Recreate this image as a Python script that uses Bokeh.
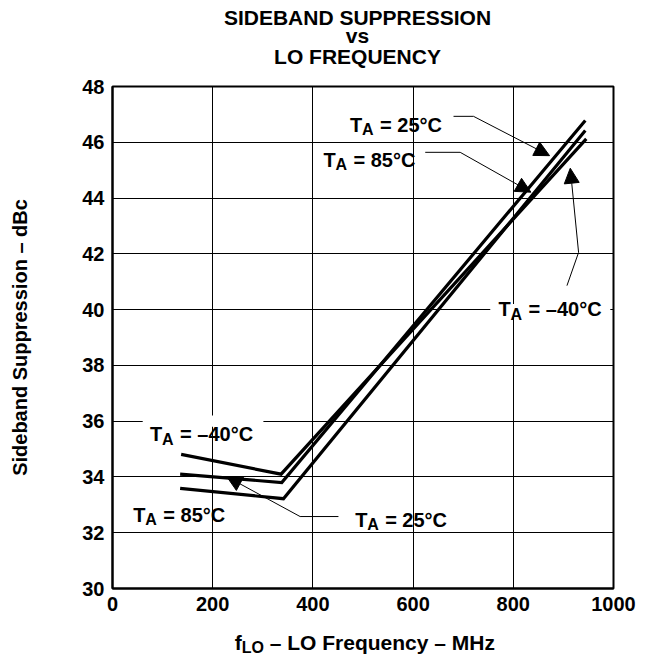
from bokeh.plotting import figure
from bokeh.layouts import column
from bokeh.models import Label, Arrow, NormalHead, BoxAnnotation, Range1d, FixedTicker
from bokeh.embed import file_html
from bokeh.resources import INLINE

# ---- data ----
freq_m40 = [137, 336.5, 945.7]
ss_m40 = [34.81, 34.10, 46.12]
freq_25 = [135, 337.9, 943.7]
ss_25 = [34.10, 33.80, 46.78]
freq_85 = [135, 341.2, 943.7]
ss_85 = [33.59, 33.22, 46.42]

x_ticks = [0, 200, 400, 600, 800, 1000]
y_ticks = [30, 32, 34, 36, 38, 40, 42, 44, 46, 48]

title_lines = ["SIDEBAND SUPPRESSION", "vs", "LO FREQUENCY"]
y_label = "Sideband Suppression \u2013 dBc"
x_label_parts = ["f", "LO", "\u2013 LO Frequency \u2013 MHz"]

FONT = "Liberation Sans"
W = 639
LEFT, FW = 112, 501
RIGHT = W - LEFT - FW
HEAD_H = 74
TOP, FH, BOTTOM = 12, 502, 32
FOOT_H = 36


def text_fig(h):
    f = figure(frame_width=FW, frame_height=h,
               x_range=Range1d(0, 1000), y_range=Range1d(h, 0),
               x_axis_type=None, y_axis_type=None,
               min_border_left=LEFT, min_border_right=RIGHT,
               min_border_top=0, min_border_bottom=0,
               output_backend="svg", toolbar_location=None)
    f.outline_line_color = None
    f.background_fill_color = "white"
    f.border_fill_color = "white"
    return f


def add_txt(fig, x, y, text, size=20, xo=0, yo=0, align="left"):
    fig.add_layout(Label(x=x, y=y, text=text, x_offset=xo, y_offset=yo,
                         text_font=FONT, text_font_style="bold",
                         text_font_size=f"{size}px", text_color="black",
                         text_align=align, text_baseline="alphabetic"))


# ---- title block ----
head = text_fig(HEAD_H)
for t, base in zip(title_lines, (17, 35.3, 56)):
    add_txt(head, 489, base, t, size=21, align="center")

# ---- main plot ----
p = figure(frame_width=FW, frame_height=FH,
           x_range=Range1d(0, 1000), y_range=Range1d(30, 48),
           output_backend="svg", toolbar_location=None,
           min_border_left=LEFT, min_border_right=RIGHT,
           min_border_top=TOP, min_border_bottom=BOTTOM)

p.background_fill_color = "white"
p.border_fill_color = "white"
p.outline_line_color = "black"
p.outline_line_width = 2

for ax in (p.xaxis[0], p.yaxis[0]):
    ax.major_tick_in = 0
    ax.major_tick_out = 0
    ax.minor_tick_line_color = None
    ax.axis_line_color = "black"
    ax.axis_line_width = 2
    ax.major_label_text_font = FONT
    ax.major_label_text_font_style = "bold"
    ax.major_label_text_font_size = "20px"
    ax.major_label_text_color = "black"

p.xaxis.ticker = FixedTicker(ticks=x_ticks)
p.yaxis.ticker = FixedTicker(ticks=y_ticks)
p.xaxis.major_label_standoff = 8
p.yaxis.major_label_standoff = 8

p.yaxis.axis_label = y_label
p.yaxis.axis_label_text_font = FONT
p.yaxis.axis_label_text_font_style = "bold"
p.yaxis.axis_label_text_font_size = "20px"
p.yaxis.axis_label_text_color = "black"
p.yaxis.axis_label_standoff = 48

p.xgrid.ticker = FixedTicker(ticks=x_ticks)
p.ygrid.ticker = FixedTicker(ticks=y_ticks)
for g in (p.xgrid[0], p.ygrid[0]):
    g.grid_line_color = "black"
    g.grid_line_width = 1
    g.grid_line_alpha = 1.0

# curves
for fx, fy in ((freq_m40, ss_m40), (freq_25, ss_25), (freq_85, ss_85)):
    p.line(fx, fy, line_color="black", line_width=3.2, line_join="miter")

# white masks behind the -40 labels where they sit on grid lines
p.add_layout(BoxAnnotation(left=60.3, right=301.2, bottom=35.8, top=36.2,
                           fill_color="white", fill_alpha=1, line_color=None))
p.add_layout(BoxAnnotation(left=754, right=993.6, bottom=39.8, top=40.2,
                           fill_color="white", fill_alpha=1, line_color=None))


def ta_label(x, y, temp):
    add_txt(p, x, y, "T")
    add_txt(p, x, y, "A", size=16, xo=12.0, yo=-5)
    add_txt(p, x, y, "= " + temp, xo=30)


ta_label(474.3, 46.63, "25\u00b0C")
ta_label(421.1, 45.37, "85\u00b0C")
ta_label(770.6, 40.02, "\u201340\u00b0C")
ta_label(74.9, 35.53, "\u201340\u00b0C")
ta_label(41.5, 32.64, "85\u00b0C")
ta_label(484.3, 32.46, "25\u00b0C")

# leader lines with arrow heads
leaders = [
    ([680.7, 720.6], [46.93, 46.93], (872.4, 45.52)),
    ([624.2, 694.0], [45.64, 45.64], (835.2, 44.21)),
    ([907.1, 930.3], [40.86, 42.05], (913.7, 45.07)),
    ([451.0, 374.5], [32.58, 32.58], (228.1, 34.01)),
]
for lx, ly, tip in leaders:
    p.line(lx, ly, line_color="black", line_width=1)
    p.add_layout(Arrow(x_start=lx[-1], y_start=ly[-1], x_end=tip[0], y_end=tip[1],
                       line_color="black", line_width=1,
                       end=NormalHead(size=15, fill_color="black",
                                      line_color="black", line_width=1)))

# ---- x-axis label block (with subscript) ----
foot = text_fig(FOOT_H)
x0 = 244
add_txt(foot, x0, 22, x_label_parts[0], size=21)
add_txt(foot, x0, 26.5, x_label_parts[1], size=16, xo=7.0)
add_txt(foot, x0, 22, x_label_parts[2], size=21, xo=35.0)

layout = column(head, p, foot, spacing=0)
open("out.html", "w").write(file_html(layout, INLINE))
